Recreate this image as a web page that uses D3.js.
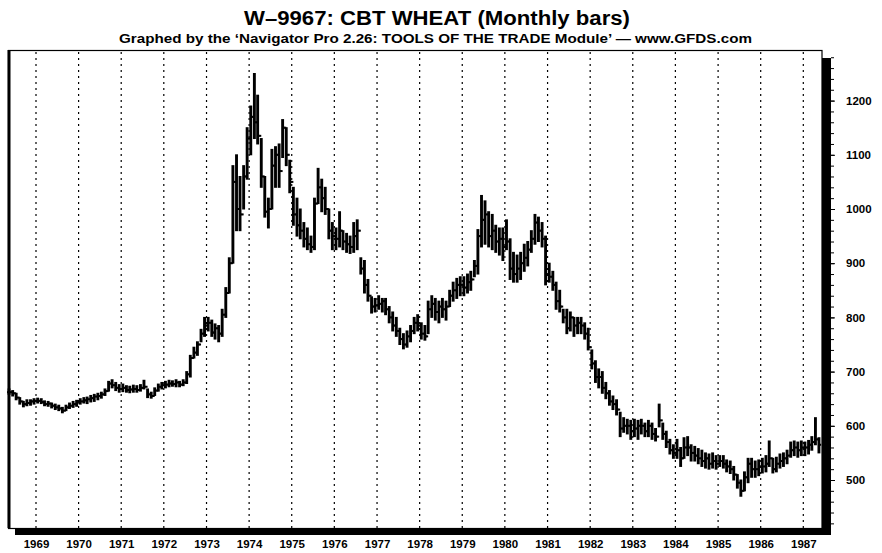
<!DOCTYPE html>
<html>
<head>
<meta charset="utf-8">
<script src="https://cdn.jsdelivr.net/npm/d3@7"></script>
<style>
  body { margin: 0; background: #fff; }
  svg text { font-family: "Liberation Sans", Arial, sans-serif; font-weight: bold; fill: #000; }
</style>
</head>
<body>
<svg width="882" height="553"></svg>
<script>
// first bar is May 1968, one bar per month
const startYear = 1968;
const startMonth = 4;

const high = [
  668, 665, 660, 652, 645, 648, 648, 650, // 1968 (May-Dec)
  651, 650, 646, 645, 642, 640, 638, 634, 638, 642, 645, 647, // 1969
  650, 652, 653, 656, 658, 660, 662, 668, 682, 685, 680, 676, // 1970
  677, 674, 673, 675, 674, 676, 684, 668, 662, 670, 677, 680, // 1971
  682, 684, 683, 685, 682, 685, 700, 730, 745, 755, 778, 800, // 1972
  800, 795, 788, 785, 815, 855, 910, 1080, 1100, 1060, 1080, 1150, // 1973
  1190, 1250, 1210, 1130, 1060, 1020, 1110, 1115, 1120, 1165, 1150, 1090, // 1974
  1040, 1020, 1000, 975, 965, 950, 1020, 1075, 1055, 1040, 1000, 975, // 1975
  965, 995, 960, 955, 950, 975, 980, 910, 905, 870, 838, 835, // 1976
  840, 835, 835, 820, 810, 800, 780, 770, 775, 785, 800, 805, // 1977
  790, 785, 830, 840, 835, 830, 835, 830, 850, 865, 872, 875, // 1978
  875, 880, 885, 905, 962, 1025, 1015, 995, 990, 970, 965, 965, // 1979
  980, 945, 920, 915, 920, 935, 940, 960, 990, 985, 975, 950, // 1980
  900, 885, 865, 850, 815, 815, 810, 800, 800, 800, 790, 780, // 1981
  740, 720, 705, 700, 680, 665, 655, 648, 625, 615, 612, 610, // 1982
  612, 610, 612, 605, 610, 605, 595, 640, 605, 590, 575, 565, // 1983
  575, 560, 578, 580, 565, 562, 558, 555, 550, 548, 550, 545, // 1984
  545, 545, 537, 535, 525, 510, 500, 515, 540, 540, 535, 537, // 1985
  540, 545, 572, 540, 542, 548, 550, 555, 570, 572, 570, 572, // 1986
  570, 573, 580, 615, 578 // 1987 (Jan-May)
];

const low = [
  658, 655, 648, 640, 635, 637, 638, 640,
  642, 641, 637, 636, 633, 630, 628, 624, 628, 632, 634, 636,
  640, 642, 641, 644, 645, 648, 651, 656, 664, 670, 665, 662,
  663, 662, 661, 662, 662, 664, 668, 652, 651, 656, 664, 668,
  670, 672, 673, 672, 672, 674, 678, 690, 725, 730, 755, 765,
  775, 765, 760, 755, 765, 800, 845, 900, 960, 960, 1000, 1055,
  1100, 1130, 1120, 1040, 985, 965, 1000, 1040, 1040, 1095, 1080, 1030,
  970, 950, 945, 930, 925, 920, 925, 1010, 995, 990, 945, 925,
  925, 930, 925, 920, 918, 920, 925, 880, 845, 830, 808, 810,
  815, 810, 805, 790, 775, 765, 750, 742, 745, 755, 770, 775,
  760, 758, 770, 800, 795, 790, 800, 795, 820, 830, 835, 840,
  840, 845, 850, 875, 880, 930, 935, 930, 925, 920, 915, 905,
  925, 870, 865, 865, 870, 885, 895, 920, 935, 940, 930, 860,
  865, 850, 815, 810, 790, 770, 775, 765, 770, 770, 760, 740,
  705, 680, 670, 660, 650, 638, 630, 620, 580, 588, 585, 575,
  580, 575, 585, 580, 580, 575, 572, 598, 575, 560, 548, 540,
  540, 525, 540, 545, 535, 535, 530, 525, 522, 520, 522, 520,
  525, 522, 515, 512, 500, 485, 470, 480, 495, 505, 505, 508,
  513, 515, 525, 513, 515, 522, 525, 530, 542, 545, 542, 545,
  545, 548, 555, 565, 550
];

const close = [
  662, 660, 652, 645, 640, 642, 645, 646,
  646, 644, 640, 641, 637, 634, 632, 628, 634, 637, 640, 643,
  645, 647, 649, 651, 654, 655, 658, 664, 678, 675, 670, 668,
  670, 666, 667, 668, 666, 670, 672, 658, 655, 665, 672, 675,
  676, 678, 677, 680, 676, 680, 695, 725, 735, 750, 770, 785,
  790, 772, 780, 770, 805, 845, 900, 1050, 1000, 990, 1060, 1130,
  1170, 1160, 1135, 1060, 995, 1000, 1080, 1100, 1070, 1150, 1100, 1050,
  990, 970, 960, 945, 935, 930, 1010, 1040, 1020, 1000, 960, 950,
  945, 960, 940, 935, 930, 950, 960, 890, 860, 840, 820, 822,
  825, 830, 815, 800, 785, 775, 760, 750, 765, 775, 790, 785,
  770, 765, 815, 825, 810, 820, 815, 820, 840, 850, 860, 860,
  855, 865, 870, 895, 950, 980, 990, 950, 960, 940, 945, 930,
  940, 890, 880, 890, 900, 910, 925, 945, 975, 960, 945, 880,
  875, 860, 830, 820, 800, 780, 800, 785, 790, 785, 770, 745,
  715, 690, 690, 670, 660, 645, 640, 630, 595, 600, 600, 590,
  595, 600, 600, 590, 600, 585, 580, 610, 585, 570, 555, 550,
  555, 540, 560, 560, 550, 545, 540, 535, 540, 530, 535, 530,
  535, 530, 525, 520, 510, 495, 480, 505, 530, 520, 520, 525,
  525, 530, 540, 520, 530, 535, 540, 545, 555, 560, 555, 560,
  560, 565, 570, 575, 565
];

const yearTicks = d3.range(1969, 1988);
const priceLabels = [500, 600, 700, 800, 900, 1000, 1100, 1200];

const svg = d3.select("svg");

const plot = { left: 8, top: 50, right: 822, bottom: 528 };

const x = d3.scaleTime()
  .domain([new Date(1969, 0, 1), new Date(1987, 0, 1)])
  .range([36, 803.3]);

const y = d3.scaleLinear()
  .domain([500, 1200])
  .range([480, 100.6]);

const bars = high.map((h, i) => ({
  date: new Date(startYear, startMonth + i, 15),
  high: h,
  low: low[i],
  close: close[i],
  prev: i > 0 ? close[i - 1] : close[i]
}));

// titles
svg.append("text")
  .attr("x", 437).attr("y", 25)
  .attr("text-anchor", "middle")
  .attr("font-size", 20)
  .attr("textLength", 386).attr("lengthAdjust", "spacingAndGlyphs")
  .text("W\u20139967: CBT WHEAT (Monthly bars)");

svg.append("text")
  .attr("x", 435.5).attr("y", 43)
  .attr("text-anchor", "middle")
  .attr("font-size", 12.5)
  .attr("textLength", 633).attr("lengthAdjust", "spacingAndGlyphs")
  .text("Graphed by the \u2018Navigator Pro 2.26: TOOLS OF THE TRADE Module\u2019 \u2014 www.GFDS.com");

// shadow of the frame (right and bottom)
svg.append("rect")
  .attr("x", plot.right).attr("y", 58)
  .attr("width", 9).attr("height", 535 - 58)
  .attr("fill", "#000");
svg.append("rect")
  .attr("x", 15).attr("y", plot.bottom)
  .attr("width", 831 - 15).attr("height", 7)
  .attr("fill", "#000");

// frame
svg.append("rect")
  .attr("x", plot.left + 0.5).attr("y", plot.top + 0.5)
  .attr("width", plot.right - plot.left - 0.5)
  .attr("height", plot.bottom - plot.top)
  .attr("fill", "none").attr("stroke", "#000").attr("stroke-width", 1.2);
svg.append("line")
  .attr("x1", plot.left + 1).attr("x2", plot.left + 1)
  .attr("y1", plot.top).attr("y2", plot.bottom)
  .attr("stroke", "#000").attr("stroke-width", 3);

// dotted year lines
svg.append("g")
  .selectAll("line")
  .data(yearTicks)
  .join("line")
  .attr("x1", (d) => x(new Date(d, 0, 1)))
  .attr("x2", (d) => x(new Date(d, 0, 1)))
  .attr("y1", plot.top + 2)
  .attr("y2", plot.bottom)
  .attr("stroke", "#000")
  .attr("stroke-width", 1.2)
  .attr("stroke-dasharray", "2,4");

// year labels
const xAxis = svg.append("g")
  .attr("transform", `translate(0,${plot.bottom + 7})`)
  .call(
    d3.axisBottom(x)
      .tickValues(yearTicks.map((d) => new Date(d, 0, 1)))
      .tickFormat(d3.timeFormat("%Y"))
      .tickSize(0)
      .tickPadding(5)
  );
xAxis.select(".domain").remove();
xAxis.selectAll("text")
  .attr("font-size", 11.5)
  .attr("font-family", null);

// right price axis
const minorAxis = svg.append("g")
  .attr("transform", `translate(831,0)`)
  .call(d3.axisRight(y).tickValues(d3.range(420, 1300, 20)).tickSize(3).tickFormat(""));
minorAxis.select(".domain").remove();

const yAxis = svg.append("g")
  .attr("transform", `translate(831,0)`)
  .call(
    d3.axisRight(y)
      .tickValues(priceLabels)
      .tickFormat(d3.format("d"))
      .tickSize(4)
      .tickPadding(11)
  );
yAxis.select(".domain").remove();
yAxis.selectAll("text")
  .attr("font-size", 11.5)
  .attr("font-family", null);

// monthly bars (open tick drawn at previous close)
const barG = svg.append("g").attr("stroke", "#000");

barG.selectAll("line.hl")
  .data(bars)
  .join("line")
  .attr("class", "hl")
  .attr("x1", (d) => x(d.date))
  .attr("x2", (d) => x(d.date))
  .attr("y1", (d) => y(d.high) - 0.5)
  .attr("y2", (d) => y(d.low) + 0.5)
  .attr("stroke-width", 2.9);

barG.selectAll("line.op")
  .data(bars)
  .join("line")
  .attr("class", "op")
  .attr("x1", (d) => x(d.date) - 2)
  .attr("x2", (d) => x(d.date))
  .attr("y1", (d) => y(d.prev))
  .attr("y2", (d) => y(d.prev))
  .attr("stroke-width", 2);

barG.selectAll("line.cl")
  .data(bars)
  .join("line")
  .attr("class", "cl")
  .attr("x1", (d) => x(d.date))
  .attr("x2", (d) => x(d.date) + 2.2)
  .attr("y1", (d) => y(d.close))
  .attr("y2", (d) => y(d.close))
  .attr("stroke-width", 2);
</script>
</body>
</html>
